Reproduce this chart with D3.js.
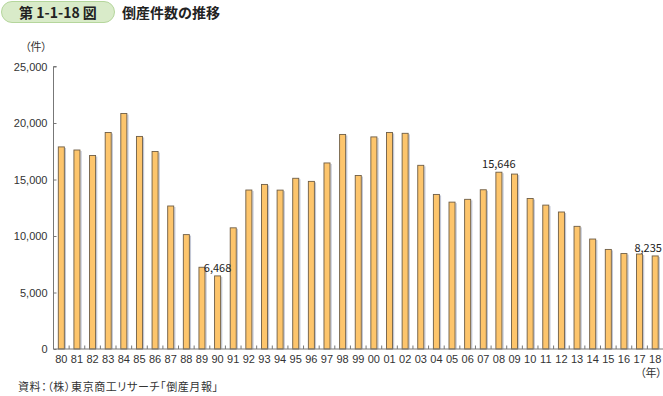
<!DOCTYPE html>
<html>
<head>
<meta charset="utf-8">
<script src="https://cdn.jsdelivr.net/npm/d3@7"></script>
<style>
  body { margin: 0; background: #fff; }
  svg { display: block; font-family: "Noto Sans CJK JP", "Noto Sans", sans-serif; }
  .palt { font-feature-settings: "palt" 1; }
</style>
</head>
<body>
<svg id="chart"></svg>
<script>
// data
var years = ["80","81","82","83","84","85","86","87","88","89","90","91","92","93","94","95","96","97","98","99",
  "00","01","02","03","04","05","06","07","08","09","10","11","12","13","14","15","16","17","18"];
var counts = [17884,17610,17122,19155,20841,18812,17476,12655,10122,7234,6468,10723,14069,14564,14061,15108,14834,16464,18988,15352,
  18769,19164,19087,16255,13679,12998,13245,14091,15646,15480,13321,12734,12124,10855,9731,8812,8446,8405,8235];
var yTicks = [0,5000,10000,15000,20000,25000];
var labelYears = ["90","08","18"];

var width = 663, height = 396;
var svg = d3.select("#chart").attr("width", width).attr("height", height);

// header
svg.append("rect")
  .attr("x", 1.5).attr("y", 1.5).attr("width", 113).attr("height", 21).attr("rx", 10.5)
  .attr("fill", "#d9ebc9").attr("stroke", "#b5d69c");
svg.append("text")
  .attr("x", 58).attr("y", 17.5).attr("text-anchor", "middle")
  .style("font-size", "14px").style("font-weight", "bold").attr("fill", "#222")
  .text("第 1-1-18 図");
svg.append("text")
  .attr("x", 122).attr("y", 17.5)
  .style("font-size", "14px").style("font-weight", "bold").attr("fill", "#222")
  .text("倒産件数の推移");

var x = d3.scaleBand().domain(years).range([53.5, 663]).paddingInner(0.55).paddingOuter(0.275);
var y = d3.scaleLinear().domain([0, 25000]).range([349, 66.5]);

// y axis
var yaxis = d3.axisLeft(y).tickValues(yTicks).tickSize(-3).tickPadding(6)
  .tickFormat(d3.format(","));
var gy = svg.append("g").attr("transform", "translate(53.5,0)").call(yaxis);
gy.select(".domain").attr("stroke", "#777").attr("d", "M3,66.5H0V349");
gy.selectAll(".tick line").attr("stroke", "#777");
gy.selectAll("text").style("font-size", "11px").attr("fill", "#333");

svg.append("text").attr("class", "palt").attr("x", 25).attr("y", 51)
  .style("font-size", "11px").attr("fill", "#333").text("（件）");

// bars
var bw = x.bandwidth();
svg.selectAll(".shadow").data(counts).enter().append("rect")
  .attr("class", "shadow")
  .attr("x", function (d, i) { return x(years[i]) + bw; })
  .attr("y", function (d) { return y(d) + 1; })
  .attr("width", 1.2)
  .attr("height", function (d) { return y(0) - y(d) - 1; })
  .attr("fill", "#c3c8d6");
svg.selectAll(".bar").data(counts).enter().append("rect")
  .attr("class", "bar")
  .attr("x", function (d, i) { return x(years[i]) + 0.5; })
  .attr("y", function (d) { return y(d); })
  .attr("width", bw - 1)
  .attr("height", function (d) { return y(0) - y(d); })
  .attr("fill", "#fdc56c")
  .attr("stroke", "#6e5d45")
  .attr("stroke-width", 0.9);

// x axis
var gx = svg.append("g").attr("transform", "translate(0,349)")
  .call(d3.axisBottom(x).tickSize(0).tickPadding(6));
gx.select(".domain").attr("stroke", "#777").attr("d", "M53.5,0H663");
gx.selectAll("text").style("font-size", "11px").attr("fill", "#333");
// boundary ticks between categories
svg.append("g").selectAll("line").data(years.slice(1)).enter().append("line")
  .attr("x1", function (d) { return x(d) - x.step() * x.paddingInner() / 2; })
  .attr("x2", function (d) { return x(d) - x.step() * x.paddingInner() / 2; })
  .attr("y1", 349).attr("y2", 345.5)
  .attr("stroke", "#777");

svg.append("text").attr("class", "palt").attr("x", 662).attr("y", 377)
  .attr("text-anchor", "end")
  .style("font-size", "11px").attr("fill", "#333").text("（年）");

// value labels
svg.selectAll(".vlab").data(labelYears).enter().append("text")
  .attr("class", "vlab")
  .attr("x", function (d) {
    var cx = x(d) + bw / 2;
    return d === "18" ? cx - 7 : cx;
  })
  .attr("y", function (d) { return y(counts[years.indexOf(d)]) - 4; })
  .attr("text-anchor", "middle")
  .style("font-size", "11px").attr("fill", "#222")
  .text(function (d) { return d3.format(",")(counts[years.indexOf(d)]); });

// source
svg.append("text").attr("class", "palt").attr("x", 18).attr("y", 391)
  .attr("textLength", 200).attr("lengthAdjust", "spacing")
  .style("font-size", "11px").attr("fill", "#333")
  .text("資料：（株）東京商工リサーチ「倒産月報」");
</script>
</body>
</html>
